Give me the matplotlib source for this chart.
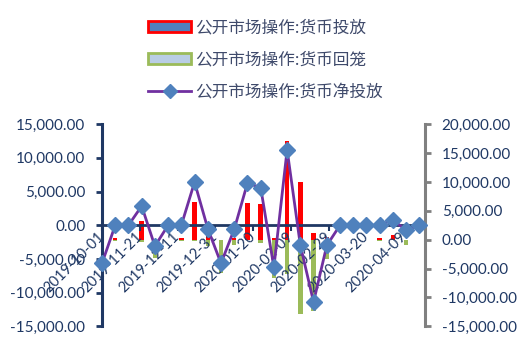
import numpy as np
import pandas as pd
import matplotlib
matplotlib.use('Agg')
import matplotlib.pyplot as plt
from matplotlib.patches import Patch
from matplotlib.lines import Line2D
from matplotlib.ticker import FuncFormatter, FixedLocator

plt.rcParams['font.family'] = ['Lato', 'Noto Sans CJK SC', 'DejaVu Sans']

# ======================
# 数据（单位：亿元，周度）
# ======================
dates = pd.date_range('2019-11-01', periods=25, freq='7D')

release = [0, 300, 0, 3300, 0, 0, 300, 6500, 600, 0, 300, 6300, 6100,
           300, 17100, 9950, 1100, 400, 0, 0, 0, 300, 800, 0, 0]
withdraw = [-5500, -300, 0, -400, -3100, 0, -300, -200, -1100, -5700, -900, 0, -600,
            -6600, -5900, -12900, -12400, -3300, 0, 0, 0, -300, 0, -900, 0]
net = [-5650, 0, 0, 2850, -3100, 0, 0, 6400, -500, -5650, -600, 6250, 5600,
       -6250, 11200, -2950, -11400, -3000, 0, 0, 0, 0, 800, -750, 0]

tick_dates = pd.date_range('2019-11-01', periods=9, freq='20D')
tick_labels = ['2019-10-01', '2019-11-21', '2019-12-11', '2019-12-31', '2020-01-20',
               '2020-02-09', '2020-02-29', '2020-03-20', '2020-04-09']

labels = ['公开市场操作:货币投放', '公开市场操作:货币回笼', '公开市场操作:货币净投放']

navy = '#1F3864'
grey = '#808080'

# ======================
# 画图
# ======================
W, H = 532, 363
fig = plt.figure(figsize=(W / 100, H / 100), dpi=100)
x0, x1, y_top, y_bot = 102, 425, 124.2, 326.3
ax = fig.add_axes([x0 / W, 1 - y_bot / H, (x1 - x0) / W, (y_bot - y_top) / H])
ax2 = ax.twinx()

# 柱子放在次坐标轴
ax2.bar(dates, release, width=2.4, color='#FF0000', zorder=2)
ax2.bar(dates, withdraw, width=2.4, color='#9BBB59', zorder=2)
ax2.set_ylim(-15000, 20000)
ax2.yaxis.set_major_locator(FixedLocator(np.arange(-15000, 20001, 5000)))

# 净投放折线放在主坐标轴
ax.plot(dates, net, color='#7030A0', lw=2, marker='D', ms=8.5,
        mfc='#4F81BD', mec='#4F81BD', zorder=3, clip_on=False)
ax.set_ylim(-15000, 15000)
ax.yaxis.set_major_locator(FixedLocator(np.arange(-15000, 15001, 5000)))
ax.set_xlim(pd.Timestamp('2019-11-01'), pd.Timestamp('2020-04-20'))

ax.set_zorder(ax2.get_zorder() + 1)
ax.patch.set_visible(False)

fmt = FuncFormatter(lambda v, p: f'{v:,.2f}')
ax.yaxis.set_major_formatter(fmt)
ax2.yaxis.set_major_formatter(fmt)

# 坐标轴样式
for s in ['top', 'right']:
    ax.spines[s].set_visible(False)
ax.spines['left'].set_color(navy)
ax.spines['left'].set_linewidth(2.2)
ax.spines['bottom'].set_position(('data', 0))
ax.spines['bottom'].set_color(navy)
ax.spines['bottom'].set_linewidth(2)

for s in ['top', 'left', 'bottom']:
    ax2.spines[s].set_visible(False)
ax2.spines['right'].set_color(grey)
ax2.spines['right'].set_linewidth(2.2)

ax.tick_params(axis='y', colors=navy, length=4, width=2, pad=8, labelsize=11)
ax2.tick_params(axis='y', color=grey, labelcolor=navy, length=4, width=2, pad=8, labelsize=11)

ax.set_xticks(tick_dates)
ax.set_xticklabels(tick_labels)
ax.tick_params(axis='x', colors=navy, length=4, width=1.5, pad=3, labelsize=10.5)
for lab in ax.get_xticklabels():
    lab.set_rotation(45)
    lab.set_ha('right')
    lab.set_va('center')
    lab.set_rotation_mode('anchor')

# 图例
handles = [
    Patch(facecolor='#4F81BD', edgecolor='#FF0000', linewidth=2),
    Patch(facecolor='#B9CDE5', edgecolor='#9BBB59', linewidth=2),
    Line2D([], [], color='#7030A0', lw=2, marker='D', ms=7,
           mfc='#4F81BD', mec='#4F81BD'),
]
fig.legend(handles, labels, loc='upper left',
           bbox_to_anchor=(148 / W, 1 - 19 / H),
           frameon=False, borderpad=0, borderaxespad=0,
           handlelength=2.6, handleheight=0.66, handletextpad=0.2,
           labelspacing=0.93, labelcolor='#3F4A6B',
           prop={'family': ['Noto Sans CJK SC', 'DejaVu Sans'], 'size': 12})

plt.savefig('out.png', dpi=100)
plt.close(fig)
